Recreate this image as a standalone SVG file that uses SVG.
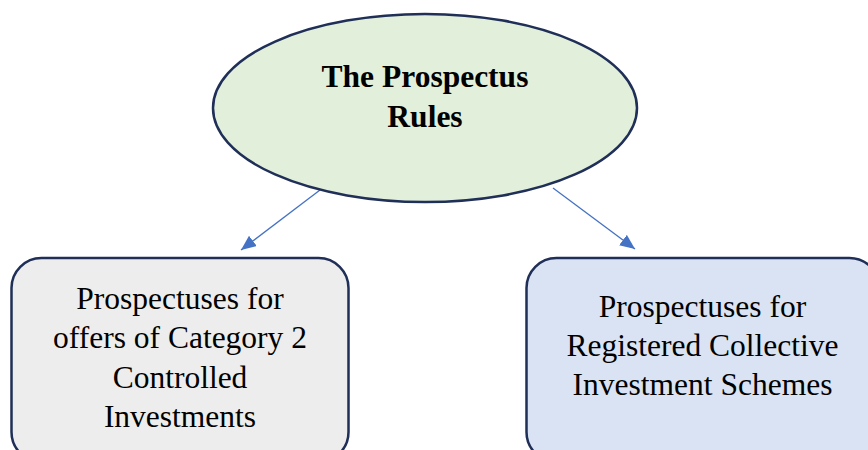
<svg xmlns="http://www.w3.org/2000/svg" width="868" height="450" viewBox="0 0 868 450">
  <style>
    .node-shape { stroke: #1f2f57; stroke-width: 2.5; }
    .label { font-family: "Liberation Serif", "Times New Roman", serif; font-size: 31.5px; fill: #000; text-anchor: middle; }
    .title { font-weight: bold; }
    .connector { stroke: #4472c4; stroke-width: 1.3; fill: none; marker-end: url(#arrow); }
  </style>
  <defs>
    <marker id="arrow" markerUnits="userSpaceOnUse" markerWidth="16" markerHeight="14" refX="15" refY="6.5" orient="auto">
      <path d="M0,0 L15,6.5 L0,13 z" fill="#4472c4"/>
    </marker>
  </defs>
  <rect width="868" height="450" fill="#ffffff"/>

  <g id="connectors">
    <line class="connector" x1="320" y1="190" x2="241" y2="250"/>
    <line class="connector" x1="553" y1="188" x2="635" y2="249"/>
  </g>

  <g id="prospectus-rules">
    <ellipse class="node-shape" cx="425" cy="108" rx="212" ry="94" fill="#e2efda"/>
    <text class="label title" x="425" y="87">The Prospectus</text>
    <text class="label title" x="425" y="127">Rules</text>
  </g>

  <g id="category-2-controlled">
    <rect class="node-shape" x="11.5" y="258" width="337" height="204" rx="30" fill="#ededed"/>
    <text class="label" x="180" y="309">Prospectuses for</text>
    <text class="label" x="180" y="348">offers of Category 2</text>
    <text class="label" x="180" y="388">Controlled</text>
    <text class="label" x="180" y="427">Investments</text>
  </g>

  <g id="registered-schemes">
    <rect class="node-shape" x="526.5" y="258" width="353" height="204" rx="30" fill="#dae3f3"/>
    <text class="label" x="702.5" y="317">Prospectuses for</text>
    <text class="label" x="702.5" y="356">Registered Collective</text>
    <text class="label" x="702.5" y="395">Investment Schemes</text>
  </g>
</svg>
